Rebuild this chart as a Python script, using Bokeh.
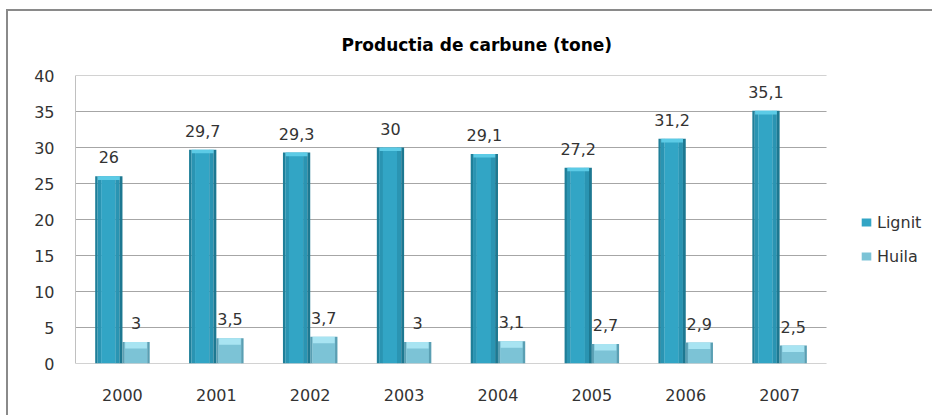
from bokeh.plotting import figure
from bokeh.models import ColumnDataSource, Range1d, LabelSet, Legend, LegendItem, FixedTicker
from bokeh.core.properties import value
from bokeh.transform import dodge
from bokeh.embed import file_html
from bokeh.resources import INLINE

years = ["2000", "2001", "2002", "2003", "2004", "2005", "2006", "2007"]
lignit = [26, 29.7, 29.3, 30, 29.1, 27.2, 31.2, 35.1]
huila = [3, 3.5, 3.7, 3, 3.1, 2.7, 2.9, 2.5]
y_ticks = [0, 5, 10, 15, 20, 25, 30, 35, 40]
title_text = "Productia de carbune (tone)"


def fmt(v):
    s = ("%g" % v)
    return s.replace(".", ",")


n = len(years)
centers = [i + 0.5 for i in range(n)]

src = ColumnDataSource(dict(
    x=centers,
    lignit=lignit,
    huila=huila,
    lignit_cap=[v - 0.5 for v in lignit],
    huila_cap=[v - 0.9 for v in huila],
    lignit_lbl=[fmt(v) for v in lignit],
    huila_lbl=[fmt(v) for v in huila],
))
grid_src = ColumnDataSource(dict(y=y_ticks, x0=[0] * len(y_ticks), x1=[n] * len(y_ticks)))

FONT = "DejaVu Sans"
FS = "16px"

p = figure(x_range=Range1d(0, 9.15), y_range=Range1d(0, 40),
           width=926, height=406, output_backend="svg", toolbar_location=None,
           min_border_left=67, min_border_right=0, min_border_top=63, min_border_bottom=54)
p.styles = {"border-top": "2px solid #8a8a8a", "border-left": "2px solid #8a8a8a",
            "margin-top": "9px", "margin-left": "6px"}

p.title.text = title_text
p.title.align = "left"
p.title.offset = 266
p.title.standoff = 42
p.title.text_font = FONT
p.title.text_font_size = "17px"
p.title.text_font_style = "bold"
p.title.text_color = "#000000"

p.outline_line_color = None
p.xgrid.grid_line_color = None
p.ygrid.grid_line_color = None
p.yaxis.ticker = FixedTicker(ticks=y_ticks)
p.xaxis.ticker = FixedTicker(ticks=centers)
p.xaxis.major_label_overrides = {c: y for c, y in zip(centers, years)}

for ax in (p.xaxis[0], p.yaxis[0]):
    ax.major_tick_line_color = None
    ax.minor_tick_line_color = None
    ax.major_label_text_font = FONT
    ax.major_label_text_font_size = FS
    ax.major_label_text_color = "#333333"
p.yaxis.axis_line_color = "#c0c0c0"
p.xaxis.axis_line_color = None
p.yaxis.major_label_standoff = 15
p.xaxis.major_label_standoff = 19

# horizontal gridlines limited to the plot area of the categories
p.segment(x0="x0", x1="x1", y0="y", y1="y", source=grid_src, line_color="#a6a6a6", line_width=1)

W = 0.29
lig_strips = [(-0.29, -0.265, "#1f7f99"), (-0.265, -0.225, "#2a94b2"), (-0.225, -0.075, "#32a5c5"),
              (-0.075, -0.03, "#2a94b2"), (-0.03, 0.0, "#1d7891")]
lig_main = None
for a, b, c in lig_strips:
    r = p.vbar(x=dodge("x", (a + b) / 2), top="lignit", bottom=0,
               width=(b - a) * 1.02, source=src, fill_color=c, line_color=None)
    if lig_main is None and c == "#32a5c5":
        lig_main = r
p.vbar(x=dodge("x", -0.145), top="lignit", bottom="lignit_cap", width=W * 0.8,
       source=src, fill_color="#5ccbe6", line_color=None)

hui_strips = [(0.0, 0.025, "#5a9fb3"), (0.025, 0.265, "#7cc3d6"), (0.265, 0.29, "#5a9fb3")]
hui_main = None
for a, b, c in hui_strips:
    r = p.vbar(x=dodge("x", (a + b) / 2), top="huila", bottom=0,
               width=(b - a) * 1.02, source=src, fill_color=c, line_color=None)
    if hui_main is None and c == "#7cc3d6":
        hui_main = r
p.vbar(x=dodge("x", 0.145), top="huila", bottom="huila_cap", width=W * 0.8,
       source=src, fill_color="#a8e4f2", line_color=None)

for col, lbl, off in (("lignit", "lignit_lbl", -0.145), ("huila", "huila_lbl", 0.145)):
    p.add_layout(LabelSet(x=dodge("x", off), y=col, text=lbl, source=src,
                          y_offset=13, text_align="center", text_baseline="bottom",
                          text_font=value(FONT), text_font_size=value(FS),
                          text_color="#333333"))

legend = Legend(items=[LegendItem(label="Lignit", renderers=[lig_main]),
                       LegendItem(label="Huila", renderers=[hui_main])],
                location=(785, 97), orientation="vertical")
legend.margin = 0
legend.padding = 4
legend.border_line_color = None
legend.background_fill_alpha = 0
legend.label_text_font = FONT
legend.label_text_font_size = FS
legend.label_text_color = "#333333"
legend.glyph_width = 12
legend.glyph_height = 10
legend.label_height = 20
legend.spacing = 14
legend.label_standoff = 5
p.add_layout(legend, "center")

open("out.html", "w").write(file_html(p, INLINE))
